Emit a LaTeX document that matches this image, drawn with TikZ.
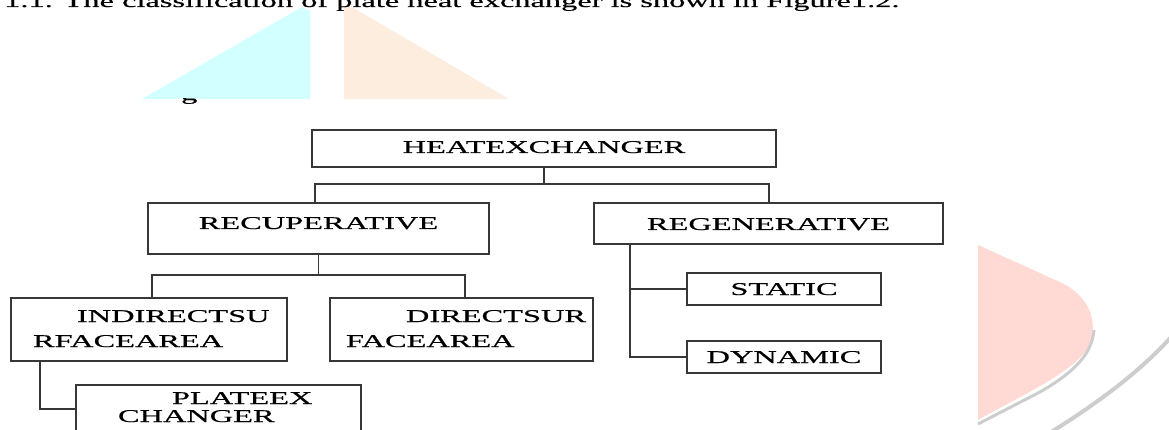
\documentclass[tikz,border=0pt]{standalone}
\usepackage{fontspec}
\newfontfamily\boxfont[FakeStretch=1.8,FakeBold=0.6]{Liberation Serif}
\definecolor{wmcyan}{RGB}{210,255,255}
\definecolor{wmorange}{RGB}{253,237,222}
\definecolor{wmpink}{RGB}{255,218,213}
\definecolor{wmgray}{RGB}{205,205,205}
\definecolor{boxline}{RGB}{55,55,55}

\begin{document}
\begin{tikzpicture}[x=1pt,y=-1pt,font=\boxfont\fontsize{18pt}{25pt}\selectfont,
  cbox/.style={draw=boxline,line width=1.3pt,inner sep=0pt},
  link/.style={draw=boxline,line width=1.3pt}]
  \useasboundingbox (0,0) rectangle (1169,430);
  % watermark behind the chart
  \fill[wmcyan] (142,99) -- (302,7) -- (310,11) -- (310,99) -- cycle;
  \fill[wmorange] (344,99) -- (344,7) -- (352,7) -- (509,99) -- cycle;
  \fill[wmpink] (978,245) -- (1062,283) .. controls (1090,297) and (1098,322) .. (1090,345)
    .. controls (1075,372) and (1020,396) .. (978,420) -- cycle;
  \draw[wmgray,line width=3pt] (1094,330) .. controls (1092,352) and (1078,370) .. (1040,392)
    -- (978,424);
  \draw[wmgray,line width=4pt] (1172,336) .. controls (1140,372) and (1095,405) .. (1048,434);
  % text of the page
  \node[anchor=base west,inner sep=0pt] (intro) at (4,7)
    {1.1. The classification of plate heat exchanger is shown in Figure1.2.};
  \begin{scope}
    \clip (170,99) rectangle (210,110);
    \node[anchor=base west,inner sep=0pt] (figg) at (181,100) {g};
  \end{scope}
  % boxes
  \node[cbox,minimum width=464pt,text height=23pt,text depth=14pt] (heat) at (544,148.5) {HEATEXCHANGER};
  \node[cbox,minimum width=341pt,text height=26pt,text depth=25pt] (recup) at (318.5,228.5) {RECUPERATIVE};
  \node[cbox,minimum width=349pt,text height=27pt,text depth=14pt] (regen) at (768.5,223.5) {REGENERATIVE};
  \node[cbox,minimum width=194pt,text height=22pt,text depth=10pt] (static) at (784,289) {STATIC};
  \node[cbox,minimum width=194pt,text height=22pt,text depth=10pt] (dynamic) at (784,357) {DYNAMIC};
  \node[cbox,text width=232pt,inner xsep=22pt,align=left,text height=24pt,text depth=39pt] (indirect)
    at (149,329.5) {\hspace*{44pt}\mbox{INDIRECTSU}\\\mbox{RFACEAREA}};
  \node[cbox,text width=231pt,inner xsep=16pt,align=left,text height=24pt,text depth=39pt] (direct)
    at (461.5,329.5) {\hspace*{60pt}\mbox{DIRECTSUR}\\\mbox{FACEAREA}};
  \node[cbox,text width=201pt,inner xsep=42pt,align=left,text height=19pt,text depth=41pt] (plate)
    at (218.5,415) {\hspace*{54pt}\mbox{PLATEEX}\\[-7pt]\mbox{CHANGER}};
  % connectors
  \coordinate (hleft) at (315,184);
  \coordinate (hright) at (769,184);
  \draw[link] (heat.south) -- (heat.south |- hleft);
  \draw[link] (recup.north -| hleft) -- (hleft) -- (hright) -- (regen.north -| hright);
  \coordinate (rleft) at (152,275);
  \coordinate (rright) at (465,275);
  \draw[link] (recup.south) -- (recup.south |- rleft);
  \draw[link] (indirect.north -| rleft) -- (rleft) -- (rright) -- (direct.north -| rright);
  \coordinate (ptrunk) at (40,409);
  \draw[link] (indirect.south -| ptrunk) -- (ptrunk) -- (plate.west |- ptrunk);
  \coordinate (gtrunk) at (630,0);
  \draw[link] (regen.south -| gtrunk) -- (dynamic.west -| gtrunk) -- (dynamic.west);
  \draw[link] (static.west) -- (static.west -| gtrunk);
\end{tikzpicture}
\end{document}
